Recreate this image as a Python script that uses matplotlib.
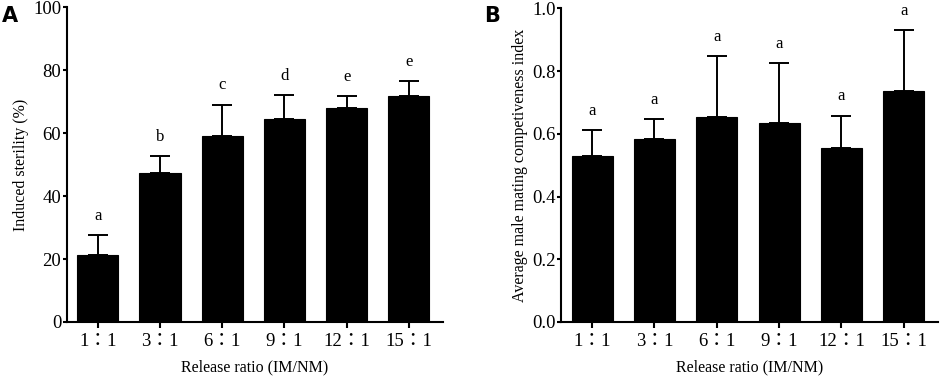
import numpy as np
import matplotlib
matplotlib.use("Agg")
import matplotlib.pyplot as plt

plt.rcParams['font.family'] = ['Liberation Serif', 'Noto Sans CJK TC']

#data
ratios = ['1：1', '3：1', '6：1', '9：1', '12：1', '15：1']

sterility_mean = [21.3, 47.5, 59.1, 64.6, 68.1, 71.7]
sterility_err = [6.2, 5.1, 10.0, 7.4, 3.6, 4.8]
sterility_letters = ['a', 'b', 'c', 'd', 'e', 'e']

compet_mean = [0.528, 0.582, 0.655, 0.633, 0.554, 0.736]
compet_err = [0.084, 0.066, 0.192, 0.193, 0.104, 0.196]
compet_letters = ['a', 'a', 'a', 'a', 'a', 'a']

fig = plt.figure(figsize=(9.41, 3.77), dpi=100)
axA = fig.add_axes([0.0709, 0.1459, 0.3999, 0.8347])
axB = fig.add_axes([0.5962, 0.1459, 0.4006, 0.8321])


def draw_panel(ax, mean, err, letters, ylim, yticks, yfmt, ylabel):
    x = np.arange(len(ratios))
    ax.bar(x, mean, width=0.66, color='black', edgecolor='black', linewidth=0.8, zorder=2)
    ax.errorbar(x, mean, yerr=[np.zeros(len(err)), err], fmt='none',
                ecolor='black', elinewidth=1.4, capsize=7.5, capthick=1.4, zorder=1)
    for xi, m, e, lab in zip(x, mean, err, letters):
        ax.annotate(lab, (xi, m + e), xytext=(0, 8), textcoords='offset points',
                    ha='center', va='bottom', fontsize=12)
    ax.set_xlim(-0.5, 5.55)
    ax.set_ylim(*ylim)
    ax.set_yticks(yticks)
    ax.set_yticklabels([yfmt.format(t) for t in yticks], fontsize=13.5)
    ax.set_xticks(x)
    ax.set_xticklabels(ratios, fontsize=13.5)
    ax.spines['top'].set_visible(False)
    ax.spines['right'].set_visible(False)
    ax.spines['left'].set_linewidth(1.5)
    ax.spines['bottom'].set_linewidth(1.5)
    ax.tick_params(axis='both', direction='out', length=3, width=1.5, pad=1)
    ax.tick_params(axis='x', length=4, pad=4)
    ax.set_xlabel('Release ratio (IM/NM)', fontsize=11.5, labelpad=7)
    ax.set_ylabel(ylabel, fontsize=11.5, labelpad=3)


draw_panel(axA, sterility_mean, sterility_err, sterility_letters,
           (0, 100), [0, 20, 40, 60, 80, 100], '{:.0f}', 'Induced sterility (%)')
draw_panel(axB, compet_mean, compet_err, compet_letters,
           (0, 1.0), [0, 0.2, 0.4, 0.6, 0.8, 1.0], '{:.1f}',
           'Average male mating competiveness index')

fig.text(0.002, 0.985, 'A', fontsize=15, fontweight='bold', family='DejaVu Sans',
         va='top', ha='left')
fig.text(0.515, 0.985, 'B', fontsize=15, fontweight='bold', family='DejaVu Sans',
         va='top', ha='left')

fig.savefig('out.png', dpi=100)
